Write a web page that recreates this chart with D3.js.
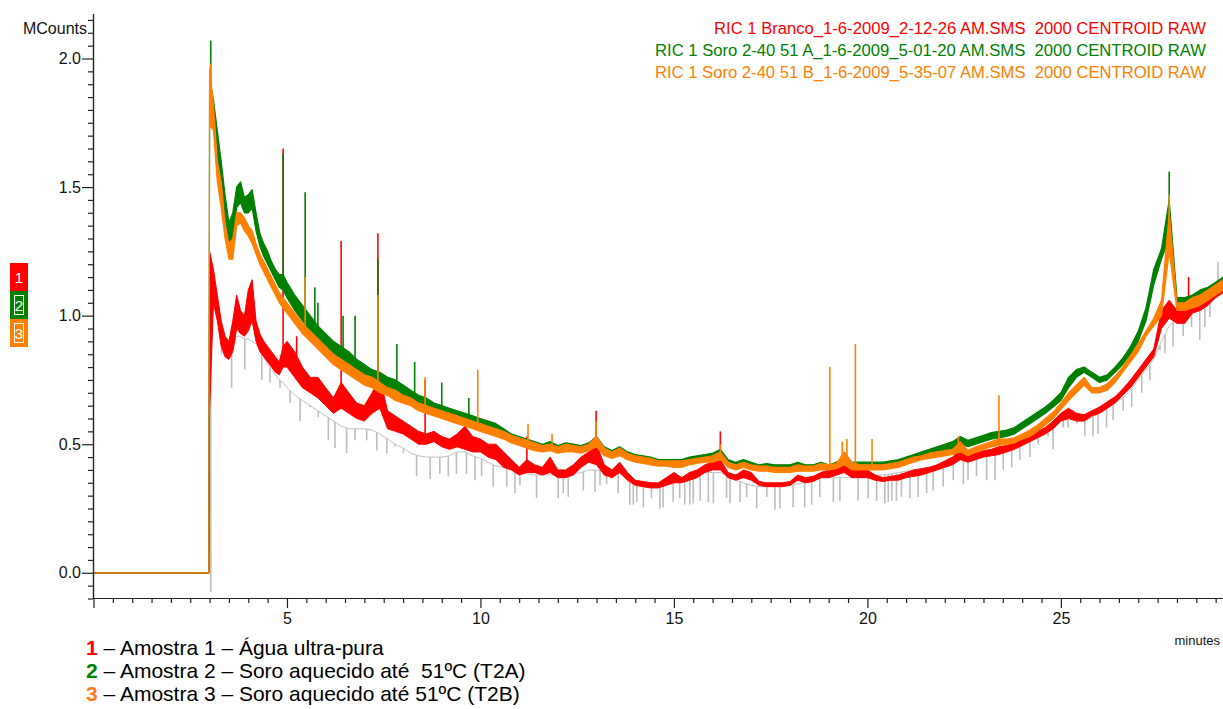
<!DOCTYPE html>
<html><head><meta charset="utf-8">
<script src="https://cdn.jsdelivr.net/npm/d3@7"></script>
<style>
body{margin:0;background:#fff;}
svg{display:block;font-family:Arial,"Liberation Sans",sans-serif;}
</style></head><body>
<svg id="chart" width="1223" height="709"></svg>
<script>
// ---------------- DATA ----------------
const times = [0,2.98,3.0,3.1,3.2,3.3,3.4,3.5,3.6,3.7,3.8,3.9,4.0,4.1,4.2,4.3,4.4,4.5,4.6,4.7,4.8,4.9,5.0,
 5.2,5.4,5.6,5.8,6.0,6.2,6.4,6.6,6.8,7.0,
 7.2,7.4,7.6,7.8,8.0,8.2,8.4,8.6,8.8,9.0,
 9.2,9.4,9.6,9.8,10.0,10.2,10.4,10.6,10.8,11.0,
 11.2,11.4,11.6,11.8,12.0,12.2,12.4,12.6,12.8,13.0,
 13.2,13.4,13.6,13.8,14.0,14.2,14.4,14.6,14.8,15.0,
 15.2,15.4,15.6,15.8,16.0,16.2,16.4,16.6,16.8,17.0,
 17.2,17.4,17.6,17.8,18.0,18.2,18.4,18.6,18.8,19.0,
 19.2,19.4,19.6,19.8,20.0,20.2,20.4,20.6,20.8,21.0,
 21.2,21.4,21.6,21.8,22.0,22.2,22.4,22.6,22.8,23.0,
 23.2,23.4,23.6,23.8,24.0,24.2,24.4,24.6,24.8,25.0,
 25.2,25.4,25.6,25.8,26.0,26.2,26.4,26.6,26.8,27.0,
 27.2,27.4,27.6,27.8,28.0,28.2,28.4,28.6,28.8,29.0,
 29.2];

// Sample 2 (green) band: low / high envelope, MCounts
const greenLo = [0,0,1.76,1.74,1.60,1.50,1.38,1.28,1.30,1.42,1.44,1.40,1.40,1.42,1.33,1.27,1.23,1.20,1.17,1.14,1.11,1.10,1.07,
 1.02,0.98,0.94,0.90,0.87,0.84,0.82,0.80,0.78,0.76,
 0.74,0.73,0.71,0.70,0.68,0.66,0.64,0.63,0.62,0.61,
 0.60,0.59,0.58,0.57,0.56,0.55,0.54,0.53,0.51,0.50,
 0.49,0.48,0.475,0.48,0.47,0.48,0.475,0.47,0.48,0.49,
 0.46,0.45,0.46,0.445,0.435,0.43,0.425,0.42,0.42,0.42,
 0.42,0.43,0.435,0.44,0.44,0.45,0.42,0.41,0.42,0.41,
 0.40,0.40,0.40,0.40,0.40,0.405,0.40,0.40,0.41,0.40,
 0.41,0.42,0.41,0.41,0.41,0.41,0.41,0.415,0.42,0.43,
 0.44,0.45,0.46,0.47,0.475,0.48,0.50,0.49,0.50,0.51,
 0.52,0.525,0.53,0.54,0.56,0.58,0.60,0.62,0.645,0.67,
 0.72,0.76,0.78,0.76,0.74,0.75,0.78,0.81,0.85,0.90,
 0.98,1.12,1.22,1.30,1.04,1.03,1.04,1.06,1.07,1.09,
 1.11];
const greenHi = [0,0,1.92,1.84,1.72,1.60,1.47,1.36,1.40,1.50,1.52,1.46,1.47,1.49,1.40,1.32,1.28,1.25,1.21,1.18,1.16,1.16,1.13,
 1.08,1.04,1.00,0.96,0.93,0.90,0.88,0.86,0.83,0.81,
 0.79,0.78,0.76,0.75,0.73,0.71,0.69,0.68,0.66,0.65,
 0.64,0.63,0.62,0.61,0.60,0.59,0.58,0.56,0.54,0.53,
 0.52,0.51,0.50,0.51,0.495,0.505,0.50,0.495,0.505,0.53,
 0.49,0.475,0.49,0.47,0.46,0.455,0.45,0.44,0.44,0.44,
 0.44,0.45,0.455,0.46,0.465,0.48,0.44,0.43,0.44,0.43,
 0.42,0.425,0.42,0.42,0.42,0.43,0.42,0.42,0.43,0.42,
 0.43,0.45,0.43,0.43,0.43,0.43,0.43,0.435,0.44,0.45,
 0.46,0.47,0.48,0.49,0.50,0.51,0.53,0.515,0.525,0.535,
 0.545,0.55,0.555,0.565,0.585,0.605,0.625,0.645,0.67,0.70,
 0.76,0.79,0.80,0.78,0.76,0.77,0.80,0.835,0.88,0.94,
 1.03,1.18,1.26,1.45,1.07,1.07,1.08,1.10,1.11,1.13,
 1.15];

// Sample 3 (orange) band
const orangeLo = [0,0,1.74,1.72,1.52,1.42,1.30,1.22,1.22,1.35,1.36,1.33,1.31,1.28,1.24,1.20,1.17,1.14,1.11,1.08,1.05,1.03,1.01,
 0.97,0.93,0.90,0.87,0.84,0.81,0.79,0.77,0.75,0.73,
 0.72,0.70,0.69,0.67,0.66,0.65,0.63,0.62,0.61,0.60,
 0.59,0.58,0.57,0.56,0.55,0.54,0.53,0.52,0.505,0.495,
 0.485,0.475,0.47,0.475,0.465,0.47,0.47,0.465,0.475,0.49,
 0.455,0.445,0.455,0.44,0.43,0.425,0.42,0.415,0.415,0.41,
 0.41,0.42,0.425,0.43,0.43,0.44,0.41,0.40,0.41,0.40,
 0.395,0.395,0.39,0.39,0.39,0.395,0.395,0.395,0.40,0.40,
 0.405,0.42,0.40,0.40,0.40,0.40,0.40,0.405,0.41,0.42,
 0.43,0.44,0.445,0.45,0.455,0.46,0.47,0.455,0.47,0.48,
 0.49,0.495,0.50,0.505,0.52,0.53,0.55,0.575,0.60,0.635,
 0.67,0.70,0.73,0.70,0.70,0.71,0.74,0.78,0.82,0.86,
 0.92,0.96,1.00,1.25,1.02,1.02,1.03,1.04,1.06,1.08,
 1.10];
const orangeHi = [0,0,1.96,1.82,1.60,1.52,1.36,1.28,1.30,1.40,1.40,1.38,1.35,1.33,1.28,1.24,1.21,1.18,1.15,1.12,1.09,1.07,1.05,
 1.01,0.97,0.94,0.91,0.88,0.85,0.83,0.81,0.79,0.77,
 0.76,0.74,0.72,0.71,0.69,0.68,0.66,0.65,0.64,0.63,
 0.62,0.61,0.60,0.59,0.58,0.57,0.56,0.55,0.535,0.525,
 0.515,0.505,0.495,0.50,0.49,0.50,0.495,0.49,0.50,0.53,
 0.485,0.47,0.485,0.465,0.455,0.45,0.445,0.435,0.435,0.435,
 0.435,0.44,0.445,0.45,0.455,0.47,0.43,0.42,0.43,0.42,
 0.415,0.415,0.41,0.41,0.41,0.42,0.415,0.415,0.425,0.42,
 0.425,0.47,0.43,0.42,0.42,0.42,0.42,0.425,0.43,0.44,
 0.45,0.455,0.465,0.47,0.475,0.48,0.51,0.475,0.49,0.50,
 0.51,0.52,0.52,0.525,0.54,0.555,0.575,0.60,0.625,0.66,
 0.70,0.73,0.76,0.72,0.72,0.735,0.765,0.80,0.845,0.89,
 0.94,0.99,1.06,1.40,1.05,1.05,1.07,1.08,1.10,1.12,
 1.14];

// Sample 1 (red) band
const redLo = [0,0,0.63,1.05,0.98,0.88,0.84,0.83,0.86,0.95,0.93,0.92,0.94,0.98,0.90,0.86,0.84,0.82,0.80,0.78,0.77,0.80,0.80,
 0.76,0.72,0.70,0.68,0.65,0.62,0.64,0.62,0.60,0.59,
 0.62,0.64,0.56,0.55,0.54,0.52,0.50,0.50,0.51,0.49,
 0.48,0.49,0.48,0.47,0.47,0.45,0.44,0.41,0.40,0.38,
 0.39,0.39,0.38,0.39,0.37,0.37,0.38,0.41,0.43,0.42,
 0.38,0.37,0.39,0.36,0.34,0.335,0.33,0.33,0.34,0.35,
 0.35,0.36,0.37,0.39,0.40,0.40,0.37,0.36,0.37,0.36,
 0.34,0.335,0.335,0.335,0.34,0.36,0.35,0.355,0.37,0.37,
 0.38,0.39,0.37,0.37,0.37,0.36,0.355,0.36,0.36,0.37,
 0.375,0.38,0.39,0.40,0.41,0.42,0.44,0.43,0.44,0.45,
 0.455,0.46,0.47,0.48,0.495,0.51,0.525,0.54,0.56,0.59,
 0.60,0.59,0.59,0.61,0.62,0.64,0.66,0.69,0.72,0.76,
 0.80,0.84,0.95,0.99,0.97,0.97,1.01,1.02,1.04,1.07,
 1.09];
const redHi = [0,0,1.25,1.18,1.08,0.98,0.92,0.90,0.98,1.08,1.02,1.00,1.10,1.14,0.98,0.93,0.90,0.88,0.86,0.84,0.82,0.88,0.90,
 0.86,0.80,0.76,0.76,0.72,0.68,0.74,0.70,0.66,0.65,
 0.70,0.76,0.63,0.61,0.59,0.57,0.55,0.54,0.55,0.53,
 0.52,0.54,0.57,0.53,0.52,0.50,0.50,0.47,0.44,0.41,
 0.44,0.42,0.41,0.45,0.40,0.40,0.42,0.45,0.47,0.50,
 0.42,0.40,0.43,0.39,0.36,0.355,0.35,0.35,0.37,0.39,
 0.37,0.39,0.40,0.42,0.43,0.44,0.39,0.38,0.40,0.39,
 0.355,0.35,0.35,0.35,0.355,0.38,0.37,0.375,0.39,0.40,
 0.43,0.43,0.40,0.40,0.40,0.38,0.37,0.375,0.38,0.39,
 0.40,0.405,0.41,0.42,0.435,0.45,0.48,0.455,0.465,0.475,
 0.48,0.49,0.495,0.505,0.52,0.535,0.55,0.565,0.59,0.62,
 0.64,0.62,0.615,0.63,0.645,0.665,0.685,0.715,0.75,0.79,
 0.83,0.87,1.02,1.06,1.02,1.02,1.05,1.05,1.07,1.11,
 1.14];

// Gray reference trace: baseline
const grayBase = [0,0,1.02,1.05,1.01,0.93,0.88,0.85,0.87,0.92,0.92,0.91,0.91,0.90,0.89,0.87,0.84,0.81,0.79,0.77,0.75,0.74,0.72,
 0.69,0.67,0.65,0.63,0.61,0.59,0.57,0.56,0.56,0.56,
 0.555,0.54,0.52,0.50,0.485,0.465,0.455,0.45,0.45,0.45,
 0.455,0.47,0.47,0.455,0.445,0.43,0.415,0.41,0.40,0.395,
 0.385,0.38,0.38,0.38,0.38,0.38,0.385,0.39,0.40,0.40,
 0.395,0.39,0.385,0.37,0.36,0.35,0.34,0.345,0.35,0.36,
 0.37,0.375,0.385,0.39,0.39,0.39,0.375,0.36,0.35,0.34,
 0.335,0.335,0.335,0.335,0.34,0.345,0.355,0.36,0.37,0.37,
 0.37,0.37,0.37,0.37,0.375,0.38,0.38,0.385,0.39,0.395,
 0.40,0.405,0.41,0.415,0.42,0.43,0.44,0.445,0.45,0.455,
 0.46,0.465,0.475,0.485,0.50,0.515,0.53,0.545,0.565,0.59,
 0.60,0.595,0.59,0.605,0.62,0.64,0.66,0.68,0.71,0.75,
 0.79,0.83,0.90,0.96,0.99,1.01,1.02,1.035,1.05,1.075,
 1.10];
// Gray trace: dips [time, value]
const grayDips = [[3.03,-0.075],[3.31,0.85],[3.57,0.72],[3.91,0.79],[4.35,0.75],[4.56,0.74],[4.82,0.72],[5.08,0.66],[5.34,0.59],[5.59,0.645],
 [5.81,0.605],[6.07,0.515],[6.24,0.485],[6.54,0.465],[6.76,0.515],[7.06,0.515],[7.32,0.475],[7.58,0.465],[7.79,0.49],[8.01,0.465],
 [8.35,0.375],[8.7,0.365],[8.95,0.385],[9.17,0.375],[9.38,0.385],[9.64,0.385],[9.86,0.36],[10.03,0.375],[10.33,0.335],[10.68,0.335],
 [10.89,0.31],[11.02,0.34],[11.45,0.29],[12.01,0.29],[12.14,0.31],[12.27,0.295],[12.66,0.32],[12.96,0.315],[13.09,0.34],[13.26,0.345],
 [13.56,0.31],[13.86,0.265],[13.95,0.265],[14.04,0.275],[14.21,0.255],[14.42,0.29],[14.64,0.25],[14.72,0.255],[14.98,0.275],[15.15,0.29],
 [15.28,0.265],[15.41,0.265],[15.5,0.27],[15.68,0.28],[15.89,0.275],[16.02,0.27],[16.36,0.29],[16.45,0.27],[16.71,0.275],[16.88,0.295],
 [17.14,0.25],[17.4,0.295],[17.61,0.245],[17.74,0.25],[18.08,0.255],[18.38,0.255],[18.56,0.265],[18.77,0.295],[19.12,0.275],[19.29,0.28],
 [19.76,0.28],[20.02,0.29],[20.24,0.28],[20.45,0.27],[20.54,0.275],[20.63,0.28],[20.75,0.28],[20.88,0.295],[21.1,0.29],[21.31,0.295],
 [21.53,0.31],[21.7,0.32],[21.96,0.335],[22.22,0.36],[22.48,0.345],[22.6,0.36],[22.82,0.375],[23.08,0.36],[23.3,0.36],[23.51,0.40],
 [23.73,0.41],[23.94,0.44],[24.2,0.45],[24.41,0.50],[24.67,0.53],[24.8,0.48],[25.06,0.565],[25.19,0.565],[25.41,0.58],[25.62,0.53],
 [25.83,0.53],[25.96,0.54],[26.18,0.565],[26.35,0.595],[26.61,0.63],[26.83,0.645],[27.09,0.70],[27.3,0.75],[27.56,0.865],[27.69,0.855],
 [27.9,0.88],[28.16,0.92],[28.38,0.955],[28.59,0.905],[28.72,0.955],[28.85,0.995],[29.06,1.21]];

// Narrow peaks [time, apex]
const redSpikes = [[4.9,1.65],[5.25,0.92],[6.4,1.29],[7.35,1.32],[8.57,0.75],[11.2,0.53],[12.99,0.63],[16.2,0.55],[19.3,0.44],[22.35,0.49],[28.3,1.15]];
const greenSpikes = [[3.03,2.07],[4.9,1.63],[5.47,1.48],[5.72,1.11],[5.8,1.05],[6.45,1.00],[6.76,1.00],[7.35,1.22],[7.84,0.89],[8.3,0.82],[9.0,0.74],[9.7,0.68],[27.8,1.56]];
const orangeSpikes = [[3.02,1.98],[5.47,1.15],[7.35,1.08],[8.57,0.76],[9.93,0.79],[11.23,0.58],[11.85,0.54],[12.99,0.59],[16.2,0.50],[19.03,0.80],
 [19.35,0.51],[19.47,0.52],[19.69,0.89],[20.12,0.52],[22.35,0.53],[23.4,0.69],[27.8,1.47]];

// Axis ticks and texts
const yMajorTicks = [0, 0.5, 1.0, 1.5, 2.0];
const xMajorTicks = [0, 5, 10, 15, 20, 25];
const yLabel = "MCounts";
const xLabel = "minutes";
const topLegend = ["RIC 1 Branco_1-6-2009_2-12-26 AM.SMS  2000 CENTROID RAW",
                   "RIC 1 Soro 2-40 51 A_1-6-2009_5-01-20 AM.SMS  2000 CENTROID RAW",
                   "RIC 1 Soro 2-40 51 B_1-6-2009_5-35-07 AM.SMS  2000 CENTROID RAW"];
const seriesIds = ["1", "2", "3"];
const bottomLegend = [" – Amostra 1 – Água ultra-pura",
                      " – Amostra 2 – Soro aquecido até  51ºC (T2A)",
                      " – Amostra 3 – Soro aquecido até 51ºC (T2B)"];

// ---------------- DRAWING ----------------
const RED = "#ff0000", GREEN = "#008000", ORANGE = "#ff8000", GRAY = "#c0c0c0";
const svg = d3.select("#chart");
const x = d3.scaleLinear().domain([0, 29.19]).range([93.5, 1223]);
const y = d3.scaleLinear().domain([-0.1, 2.175]).range([598.5, 13.5]);

function at(arr, t) {
  const i = d3.bisectRight(times, t);
  if (i <= 0) return arr[0];
  if (i >= times.length) return arr[arr.length - 1];
  const t0 = times[i - 1], t1 = times[i], f = (t - t0) / (t1 - t0);
  return arr[i - 1] + (arr[i] - arr[i - 1]) * f;
}

const plot = svg.append("g");

// gray trace
plot.append("path")
  .attr("d", d3.line().x((d, i) => x(times[i])).y(d => y(d))(grayBase))
  .attr("fill", "none").attr("stroke", GRAY).attr("stroke-width", 1);
plot.selectAll(".dip").data(grayDips).join("line")
  .attr("x1", d => x(d[0])).attr("x2", d => x(d[0]))
  .attr("y1", d => y(at(grayBase, d[0]))).attr("y2", d => y(d[1]))
  .attr("stroke", "#bdbdbd").attr("stroke-width", 1.6);

function band(lo, hi, color, spikes, sw) {
  const data = times.map((t, i) => ({t, lo: lo[i], hi: hi[i]}));
  plot.append("path")
    .attr("d", d3.area().x(d => x(d.t)).y0(d => y(d.lo)).y1(d => y(d.hi))(data))
    .attr("fill", color).attr("stroke", color).attr("stroke-width", sw).attr("stroke-linejoin", "round");
  plot.selectAll(null).data(spikes).join("line")
    .attr("x1", d => x(d[0])).attr("x2", d => x(d[0]))
    .attr("y1", d => y(at(lo, d[0]))).attr("y2", d => y(d[1]))
    .attr("stroke", color).attr("stroke-width", 1.6);
}
band(redLo, redHi, RED, redSpikes, 1);
band(greenLo, greenHi, GREEN, greenSpikes, 1.2);
band(orangeLo, orangeHi, ORANGE, orangeSpikes, 1.2);

// ---------------- AXES ----------------
const tickFont = "16px";
const yMinor = d3.range(-0.1, 2.17, 0.05).filter(v => !yMajorTicks.some(m => Math.abs(m - v) < 1e-6));
svg.append("g").attr("transform", "translate(93,0)")
  .call(d3.axisLeft(y).tickValues(yMinor).tickSize(5).tickSizeOuter(0).tickFormat(""));
const gy = svg.append("g").attr("transform", "translate(93,0)")
  .call(d3.axisLeft(y).tickValues(yMajorTicks).tickSize(11).tickSizeOuter(0).tickPadding(1).tickFormat(d3.format(".1f")));
gy.selectAll("text").attr("font-size", tickFont).attr("font-family", "Arial, 'Liberation Sans', sans-serif").attr("fill", "#111");

const xMinor = d3.range(0, 29.2, 0.5).filter(v => !xMajorTicks.includes(v));
svg.append("g").attr("transform", "translate(0,598)")
  .call(d3.axisBottom(x).tickValues(xMinor).tickSize(5).tickSizeOuter(0).tickFormat(""));
const gx = svg.append("g").attr("transform", "translate(0,598)")
  .call(d3.axisBottom(x).tickValues(xMajorTicks).tickSize(10).tickSizeOuter(0).tickPadding(5).tickFormat(d => d === 0 ? "" : d));
gx.selectAll("text").attr("font-size", tickFont).attr("font-family", "Arial, 'Liberation Sans', sans-serif").attr("fill", "#111");
svg.selectAll(".domain, .tick line").attr("stroke", "#222").attr("stroke-width", 1.2);

svg.append("text").attr("x", 87).attr("y", 34).attr("text-anchor", "end")
  .attr("font-size", "16px").attr("fill", "#111").text(yLabel);
svg.append("text").attr("x", 1220).attr("y", 645).attr("text-anchor", "end")
  .attr("font-size", "13px").attr("fill", "#111").text(xLabel);

// ---------------- TOP LEGEND ----------------
const colors = [RED, GREEN, ORANGE];
const topX = [714, 655, 655], topW = [492, 551, 551];
topLegend.forEach((s, i) => {
  svg.append("text").attr("x", topX[i]).attr("y", 34 + i * 22)
    .attr("font-size", "16px").attr("fill", colors[i])
    .attr("textLength", topW[i]).attr("lengthAdjust", "spacingAndGlyphs")
    .style("white-space", "pre").text(s);
});

// ---------------- LEFT SERIES MARKERS ----------------
const boxTop = [263, 291, 319];
seriesIds.forEach((id, i) => {
  svg.append("rect").attr("x", 10).attr("y", boxTop[i]).attr("width", 18).attr("height", 28).attr("fill", colors[i]);
  if (i > 0) {
    svg.append("rect").attr("x", 14.5).attr("y", boxTop[i] + 4.5).attr("width", 9).attr("height", 19)
      .attr("fill", "none").attr("stroke", "#fff").attr("stroke-width", 1);
  }
  svg.append("text").attr("x", 19).attr("y", boxTop[i] + 20).attr("text-anchor", "middle")
    .attr("font-size", "15px").attr("fill", "#fff").text(id);
});

// ---------------- BOTTOM LEGEND ----------------
const bottomColors = ["#ff0000", "#008000", "#ff7a1a"];
bottomLegend.forEach((s, i) => {
  const t = svg.append("text").attr("x", 86).attr("y", 655 + i * 23)
    .attr("font-size", "21px").style("white-space", "pre");
  t.append("tspan").attr("font-weight", "bold").attr("fill", bottomColors[i]).text(seriesIds[i]);
  t.append("tspan").attr("fill", "#000").text(s);
});
</script>
</body></html>
